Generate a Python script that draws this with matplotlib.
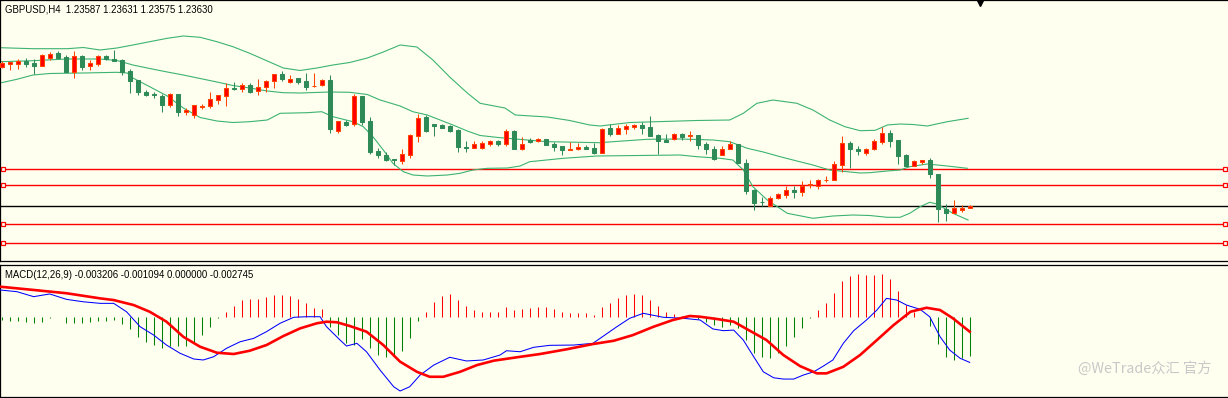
import matplotlib.pyplot as plt

# ---- GBPUSD H4 candles (prices) ----
opens = [1.2640, 1.2647, 1.2647, 1.2652, 1.2649, 1.2643, 1.2659, 1.2668, 1.2660, 1.2631,
         1.2662, 1.2643, 1.2647, 1.2662, 1.2657, 1.2653, 1.2632, 1.2614, 1.2590, 1.2587,
         1.2583, 1.2565, 1.2586, 1.2551, 1.2544, 1.2561, 1.2562, 1.2574, 1.2583, 1.2599,
         1.2597, 1.2604, 1.2592, 1.2601, 1.2613, 1.2626, 1.2611, 1.2619, 1.2612, 1.2602,
         1.2604, 1.2614, 1.2513, 1.2531, 1.2526, 1.2582, 1.2532, 1.2473, 1.2464, 1.2456,
         1.2453, 1.2464, 1.2503, 1.2541, 1.2526, 1.2524, 1.2522, 1.2514, 1.2481, 1.2479,
         1.2479, 1.2487, 1.2493, 1.2487, 1.2512, 1.2477, 1.2495, 1.2493, 1.2496, 1.2487,
         1.2482, 1.2475, 1.2476, 1.2480, 1.2479, 1.2469, 1.2518, 1.2507, 1.2517, 1.2521,
         1.2525, 1.2521, 1.2504, 1.2495, 1.2496, 1.2506, 1.2503, 1.2504, 1.2486, 1.2477,
         1.2465, 1.2477, 1.2487, 1.2449, 1.2394, 1.2371, 1.2363, 1.2379, 1.2385, 1.2394,
         1.2391, 1.2405, 1.2403, 1.2414, 1.2415, 1.2445, 1.2489, 1.2477, 1.2469, 1.2477,
         1.2491, 1.2509, 1.2494, 1.2464, 1.2443, 1.2451, 1.2455, 1.2427, 1.2357, 1.2349,
         1.2355, 1.23587]
highs = [1.2652, 1.2651, 1.2656, 1.2659, 1.2657, 1.2667, 1.2670, 1.2672, 1.2664, 1.2672,
         1.2665, 1.2654, 1.2664, 1.2664, 1.2675, 1.2657, 1.2637, 1.2615, 1.2594, 1.2591,
         1.2587, 1.2589, 1.2586, 1.2558, 1.2564, 1.2566, 1.2590, 1.2584, 1.2609, 1.2610,
         1.2609, 1.2609, 1.2616, 1.2615, 1.2627, 1.2632, 1.2624, 1.2619, 1.2629, 1.2629,
         1.2617, 1.2624, 1.2532, 1.2534, 1.2587, 1.2582, 1.2541, 1.2479, 1.2471, 1.2456,
         1.2476, 1.2507, 1.2547, 1.2544, 1.2526, 1.2527, 1.2525, 1.2517, 1.2492, 1.2492,
         1.2493, 1.2495, 1.2495, 1.2517, 1.2514, 1.2501, 1.2499, 1.2499, 1.2497, 1.2491,
         1.2482, 1.2491, 1.2489, 1.2485, 1.2489, 1.2519, 1.2527, 1.2525, 1.2527, 1.2527,
         1.2531, 1.2543, 1.2507, 1.2507, 1.2509, 1.2509, 1.2513, 1.2504, 1.2491, 1.2483,
         1.2483, 1.2493, 1.2487, 1.2457, 1.2397, 1.2381, 1.2382, 1.2389, 1.2402, 1.2402,
         1.2412, 1.2415, 1.2417, 1.2422, 1.2453, 1.2502, 1.2493, 1.2482, 1.2479, 1.2496,
         1.2521, 1.2514, 1.2495, 1.2466, 1.2454, 1.2455, 1.2459, 1.2427, 1.2367, 1.2374,
         1.2364, 1.23631]
lows = [1.2638, 1.2635, 1.2637, 1.2641, 1.2626, 1.2642, 1.2655, 1.2657, 1.2631, 1.2619,
        1.2634, 1.2635, 1.2643, 1.2655, 1.2652, 1.2625, 1.2589, 1.2585, 1.2582, 1.2579,
        1.2551, 1.2561, 1.2543, 1.2544, 1.2539, 1.2557, 1.2559, 1.2566, 1.2563, 1.2594,
        1.2591, 1.2589, 1.2584, 1.2591, 1.2599, 1.2613, 1.2609, 1.2606, 1.2595, 1.2601,
        1.2602, 1.2509, 1.2509, 1.2523, 1.2523, 1.2524, 1.2466, 1.2459, 1.2452, 1.2445,
        1.2447, 1.2459, 1.2491, 1.2511, 1.2503, 1.2519, 1.2511, 1.2471, 1.2471, 1.2479,
        1.2477, 1.2483, 1.2483, 1.2483, 1.2477, 1.2475, 1.2489, 1.2491, 1.2484, 1.2473,
        1.2464, 1.2475, 1.2474, 1.2476, 1.2466, 1.2469, 1.2503, 1.2507, 1.2506, 1.2517,
        1.2506, 1.2503, 1.2467, 1.2491, 1.2494, 1.2494, 1.2493, 1.2477, 1.2467, 1.2455,
        1.2465, 1.2477, 1.2449, 1.2386, 1.2354, 1.2362, 1.2362, 1.2376, 1.2379, 1.2379,
        1.2382, 1.2399, 1.2396, 1.2411, 1.2415, 1.2431, 1.2439, 1.2465, 1.2465, 1.2475,
        1.2486, 1.2481, 1.2447, 1.2443, 1.2443, 1.2446, 1.2419, 1.2331, 1.2333, 1.2349,
        1.2351, 1.23575]
closes = [1.2648, 1.2650, 1.2652, 1.2647, 1.2643, 1.2664, 1.2667, 1.2659, 1.2631, 1.2662,
          1.2641, 1.2649, 1.2662, 1.2657, 1.2653, 1.2631, 1.2613, 1.2591, 1.2585, 1.2584,
          1.2565, 1.2586, 1.2551, 1.2554, 1.2564, 1.2562, 1.2576, 1.2584, 1.2599, 1.2597,
          1.2604, 1.2591, 1.2601, 1.2612, 1.2626, 1.2616, 1.2617, 1.2611, 1.2601, 1.2603,
          1.2614, 1.2517, 1.2531, 1.2525, 1.2582, 1.2531, 1.2471, 1.2464, 1.2454, 1.2454,
          1.2466, 1.2504, 1.2539, 1.2513, 1.2523, 1.2519, 1.2513, 1.2481, 1.2479, 1.2486,
          1.2488, 1.2493, 1.2487, 1.2512, 1.2477, 1.2487, 1.2491, 1.2496, 1.2484, 1.2480,
          1.2474, 1.2477, 1.2480, 1.2476, 1.2468, 1.2517, 1.2507, 1.2519, 1.2522, 1.2525,
          1.2519, 1.2503, 1.2493, 1.2491, 1.2506, 1.2501, 1.2505, 1.2485, 1.2477, 1.2457,
          1.2477, 1.2487, 1.2449, 1.2393, 1.2369, 1.2370, 1.2379, 1.2386, 1.2394, 1.2391,
          1.2403, 1.2407, 1.2415, 1.2415, 1.2446, 1.2489, 1.2477, 1.2473, 1.2477, 1.2493,
          1.2509, 1.2493, 1.2463, 1.2443, 1.2452, 1.2455, 1.2427, 1.2357, 1.2349, 1.2359,
          1.2359, 1.23630]

# ---- Bollinger bands (20, 2), x in bar numbers ----
bb_up_x = [-0.2, 3.9, 8.2, 10.2, 12.3, 14.4, 16.4, 18.5, 20.7, 22.7, 24.8, 26.9, 28.9, 31.0,
           33.2, 35.2, 37.3, 39.4, 41.4, 43.5, 45.7, 47.7, 49.8, 51.9, 53.9, 56.0, 58.2, 59.8,
           62.9, 64.2, 68.2, 71.0, 73.5, 74.8, 78.5, 82.7, 86.9, 91.0, 92.7, 94.4, 96.4, 99.4,
           101.4, 103.5, 105.4, 107.3, 109.2, 110.7, 112.3, 113.9, 115.7, 118.2, 120.8]
bb_up = [1.26786, 1.26766, 1.26766, 1.26790, 1.26740, 1.26780, 1.26840, 1.26906, 1.26974,
         1.27020, 1.26994, 1.26906, 1.26806, 1.26674, 1.26520, 1.26380, 1.26330, 1.26380,
         1.26440, 1.26490, 1.26580, 1.26700, 1.26840, 1.26800, 1.26540, 1.26200, 1.25880,
         1.25674, 1.25580, 1.25440, 1.25400, 1.25330, 1.25240, 1.25220, 1.25290, 1.25310,
         1.25330, 1.25340, 1.25474, 1.25674, 1.25740, 1.25674, 1.25540, 1.25340, 1.25206,
         1.25126, 1.25134, 1.25240, 1.25260, 1.25250, 1.25220, 1.25306, 1.25374]
bb_mid_x = [-0.2, 3.9, 8.2, 12.3, 14.4, 16.4, 18.5, 20.7, 22.7, 24.8, 26.9, 28.9, 31.0, 33.2,
            35.2, 37.3, 41.0, 43.5, 45.7, 47.3, 49.8, 51.4, 53.2, 54.8, 56.4, 58.2, 59.8, 62.3,
            68.2, 74.8, 76.4, 80.7, 84.8, 88.9, 91.0, 93.2, 95.2, 97.3, 99.4, 101.4, 103.5,
            105.7, 107.3, 108.5, 110.7, 112.3, 113.5, 115.7, 118.2, 120.7]
bb_mid = [1.26506, 1.26526, 1.26560, 1.26560, 1.26530, 1.26440, 1.26370, 1.26300, 1.26240,
          1.26170, 1.26100, 1.26030, 1.25980, 1.25920, 1.25886, 1.25880, 1.25900, 1.25894,
          1.25850, 1.25740, 1.25620, 1.25506, 1.25440, 1.25340, 1.25240, 1.25120, 1.25030,
          1.24986, 1.24906, 1.24886, 1.24906, 1.24954, 1.24960, 1.24940, 1.24906, 1.24774,
          1.24700, 1.24606, 1.24520, 1.24440, 1.24340, 1.24306, 1.24280, 1.24286, 1.24320,
          1.24340, 1.24406, 1.24460, 1.24420, 1.24374]
bb_lo_x = [-0.2, 1.9, 3.9, 6.0, 10.2, 14.4, 15.7, 16.4, 18.5, 20.7, 22.7, 24.8, 26.9, 28.9,
           31.0, 33.2, 34.8, 38.2, 40.0, 41.4, 43.9, 45.2, 46.4, 47.7, 48.9, 50.2, 51.4, 53.2,
           55.7, 57.3, 58.9, 60.7, 63.2, 64.8, 66.0, 70.2, 74.4, 84.8, 86.9, 89.8, 91.4, 92.7,
           93.9, 95.7, 98.2, 101.4, 103.9, 106.4, 108.5, 110.7, 112.3, 113.5, 114.8, 116.0,
           116.9, 118.9, 120.8]
bb_lo = [1.26080, 1.26154, 1.26240, 1.26270, 1.26280, 1.26294, 1.26280, 1.26180, 1.26006,
         1.25820, 1.25580, 1.25390, 1.25320, 1.25290, 1.25306, 1.25340, 1.25474, 1.25486,
         1.25506, 1.25406, 1.25306, 1.25206, 1.25006, 1.24740, 1.24474, 1.24306, 1.24240,
         1.24220, 1.24240, 1.24274, 1.24340, 1.24374, 1.24380, 1.24420, 1.24506, 1.24574,
         1.24620, 1.24640, 1.24606, 1.24574, 1.24540, 1.24340, 1.24006, 1.23740, 1.23474,
         1.23374, 1.23420, 1.23440, 1.23430, 1.23394, 1.23394, 1.23474, 1.23606, 1.23694,
         1.23660, 1.23474, 1.23340]

# horizontal levels
red_levels = [1.24354, 1.24036, 1.23256, 1.22874]
bid_level = 1.23630

# ---- MACD panel (points = 0.00001) ----
hist = [-23, -28, -28, -35, -47, -35, -12, -5, -42, -42, -42, -35, -30, -28, -23, -51, -87,
        -140, -176, -199, -222, -206, -206, -206, -176, -129, -70, -12, 35, 75, 117, 122, 122,
        140, 154, 154, 147, 122, 94, 59, 51, -70, -129, -187, -199, -159, -222, -269, -285,
        -281, -239, -147, -30, 35, 105, 145, 159, 117, 75, 47, 35, 30, 35, 70, 47, 56, 63, 70,
        66, 51, 30, 28, 28, 23, 12, 70, 98, 133, 154, 159, 152, 117, 75, 35, 19, 5, -2, -19,
        -35, -59, -70, -59, -82, -164, -253, -285, -288, -253, -206, -145, -82, -7, 47, 98,
        164, 253, 288, 300, 293, 293, 300, 264, 180, 82, 35, -5, -63, -192, -281, -304, -293,
        -274]
macd_x = [-0.2, 1.9, 4.0, 6.0, 8.1, 10.2, 12.3, 14.0, 15.6, 17.3, 19.0, 20.6, 22.3, 24.0, 25.2,
          26.5, 28.1, 29.8, 31.5, 33.1, 34.8, 36.5, 38.1, 39.8, 40.6, 42.3, 43.1, 44.4, 45.6,
          47.3, 49.0, 49.8, 51.0, 52.3, 54.0, 56.0, 58.1, 60.2, 62.3, 63.1, 64.8, 66.5, 68.5,
          71.5, 73.9, 74.8, 76.9, 78.5, 80.2, 82.7, 85.2, 87.3, 88.9, 90.2, 91.5, 92.7, 94.0,
          95.2, 96.5, 97.7, 99.0, 100.2, 101.5, 102.7, 103.9, 105.2, 106.5, 108.1, 109.4,
          110.6, 111.9, 113.1, 114.8, 116.0, 117.3, 118.5, 119.8, 121.0]
macd = [188, 176, 141, 160, 122, 105, 94, 94, 35, -70, -129, -199, -257, -297, -304, -281,
        -222, -176, -152, -105, -46, -4, 0, 0, -70, -164, -206, -187, -246, -375, -492, -522,
        -492, -410, -340, -285, -311, -304, -269, -239, -246, -215, -201, -199, -187, -152,
        -70, -11, 24, -4, -11, -23, -86, -98, -94, -164, -281, -387, -429, -438, -438, -410,
        -387, -347, -304, -187, -98, -23, 47, 129, 117, 82, 52, 0, -141, -234, -292, -321]
signal_x = [-0.2, 4.0, 8.1, 12.3, 14.0, 16.5, 18.5, 20.6, 22.7, 24.8, 26.9, 29.0, 31.0, 33.1,
            35.2, 37.3, 39.4, 40.6, 41.9, 43.5, 45.6, 47.7, 49.8, 51.9, 53.5, 55.2, 57.3, 59.4,
            61.5, 64.4, 67.3, 70.6, 73.9, 76.5, 78.9, 81.5, 83.9, 86.0, 87.3, 89.4, 91.5, 93.5,
            95.6, 97.7, 99.8, 101.9, 103.1, 105.2, 107.3, 109.4, 111.5, 113.6, 115.6, 117.3,
            118.9, 121.0]
signal = [211, 188, 165, 129, 117, 82, 35, -35, -141, -211, -253, -262, -239, -199, -136,
          -82, -46, -35, -39, -65, -105, -199, -316, -387, -422, -422, -387, -340, -309, -285,
          -262, -229, -192, -169, -129, -70, -23, 5, 0, -16, -35, -98, -164, -269, -347, -398,
          -398, -352, -269, -164, -58, 35, 63, 47, -11, -105]

BG = "#FFFFF0"
W, H = 1228, 398
fig = plt.figure(figsize=(W / 100, H / 100), dpi=100, facecolor=BG)

px = 1 / 8.0          # one pixel in bar units
x_left = -1.7 / 8
x_right = (W - 1.7) / 8

# ---------------- price panel ----------------
ax = fig.add_axes([0, 1 - 261 / H, 1.0, 261 / H], facecolor=BG)
ax.set_xlim(x_left, x_right)
ax.set_ylim(1.2774 - 261 * 0.0002, 1.2774)

idx = list(range(len(opens)))
for i in idx:
    o, h, l, c = opens[i], highs[i], lows[i], closes[i]
    bull = c >= o
    wick_c = "#FF4500" if bull else "#2E8B57"
    face = "#FF0000" if bull else "#2E8B57"
    ax.vlines(i, l, h, color=wick_c, lw=0.75, zorder=3)
    ax.bar(i, abs(c - o), bottom=min(o, c), width=4 * px, color=face,
           edgecolor=wick_c, lw=0.75, zorder=4)

bb_col = "#3CB371"
ax.plot(bb_up_x, bb_up, color=bb_col, lw=0.8, zorder=2)
ax.plot(bb_mid_x, bb_mid, color=bb_col, lw=0.8, zorder=2)
ax.plot(bb_lo_x, bb_lo, color=bb_col, lw=0.8, zorder=2)

x_end = (1225.3 - 1.7) / 8
x_start = (3.0 - 1.7) / 8
for lv in red_levels:
    ax.hlines(lv, x_start, x_end, color="#FF0000", lw=1.0, zorder=1)
    ax.plot([x_start, x_end], [lv, lv], ls="none", marker="s", ms=3.2, mfc=BG,
            mec="#FF0000", mew=0.9, zorder=5, clip_on=False)
ax.axhline(bid_level, color="black", lw=1.0, zorder=1)

ax.spines["right"].set_visible(False)
for s in ["left", "top", "bottom"]:
    ax.spines[s].set_linewidth(0.9)
ax.set_xticks([])
ax.set_yticks([])

# shift marker
ax.plot([(980 - 1.7) / 8], [1.2774 - 3 * 0.0002], marker="v", ms=5, color="black",
        clip_on=False, zorder=6)

fig.text(5 / W, 1 - 9.5 / H, "GBPUSD,H4  1.23587 1.23631 1.23575 1.23630",
         fontsize=6.9, family="Liberation Sans", va="center", ha="left", color="black")

# ---------------- MACD panel ----------------
axm = fig.add_axes([0, 1 - 396.7 / H, 1.0, (396.7 - 264.5) / H], facecolor=BG)
axm.set_xlim(x_left, x_right)
axm.set_ylim(-562, 367)
cols = ["#FF0000" if v > 0 else "#008000" for v in hist]
axm.vlines(idx, 0, hist, colors=cols, lw=0.75, zorder=2)
axm.plot(macd_x, macd, color="#0000FF", lw=0.75, zorder=3)
axm.plot(signal_x, signal, color="#FF0000", lw=1.9, zorder=4)
axm.spines["right"].set_visible(False)
for s in ["left", "top", "bottom"]:
    axm.spines[s].set_linewidth(0.9)
axm.set_xticks([])
axm.set_yticks([])

fig.text(5 / W, 1 - 275 / H, "MACD(12,26,9) -0.003206 -0.001094 0.000000 -0.002745",
         fontsize=6.9, family="Liberation Sans", va="center", ha="left", color="black")

# watermark
fig.text(1078 / W, 1 - 368.5 / H, "@WeTrade众汇 官方", fontsize=10.3,
         family=["Noto Sans CJK SC", "DejaVu Sans"], va="center", ha="left",
         color="#C8C8C8")

fig.savefig("out.png", dpi=100, facecolor=BG)
